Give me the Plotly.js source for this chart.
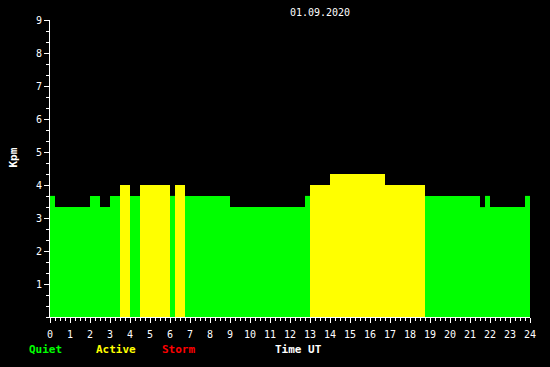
<!DOCTYPE html>
<html>
<head>
<meta charset="utf-8">
<script src="https://cdn.plot.ly/plotly-3.0.1.min.js"></script>
<style>html,body{margin:0;padding:0;background:#000;}#chart{width:550px;height:367px;}</style>
</head>
<body>
<div id="chart"></div>
<script>
// Kp segments (hours UT)
var segStart = [0, 0.25, 2.0, 2.5, 3.0, 3.5, 4.0, 4.5, 6.0, 6.25, 6.75, 9.0, 12.75, 13.0, 14.0, 16.75, 18.75, 21.5, 21.75, 22.0, 23.75];
var segEnd   = [0.25, 2.0, 2.5, 3.0, 3.5, 4.0, 4.5, 6.0, 6.25, 6.75, 9.0, 12.75, 13.0, 14.0, 16.75, 18.75, 21.5, 21.75, 22.0, 23.75, 24.0];
var kpValues = [3.67, 3.33, 3.67, 3.33, 3.67, 4.0, 3.67, 4.0, 3.67, 4.0, 3.67, 3.33, 3.67, 4.0, 4.33, 4.0, 3.67, 3.33, 3.67, 3.33, 3.67];
var xTickVals = [0,1,2,3,4,5,6,7,8,9,10,11,12,13,14,15,16,17,18,19,20,21,22,23,24];
var yTickVals = [1,2,3,4,5,6,7,8,9];
var dateLabel = "01.09.2020";

function kpColor(v){ return v >= 5 ? '#ff0000' : (v >= 4 ? '#ffff00' : '#00ff00'); }

var widths = segStart.map(function(s,i){ return segEnd[i]-s; });
var colors = kpValues.map(kpColor);

var trace = {
  type: 'bar', x: segStart, y: kpValues, width: widths, offset: 0,
  marker: {color: colors, line: {width: 0}}, hoverinfo: 'none'
};

var W = 550, H = 367, L = 50, R = 20, T = 20, B = 50;
var pw = W - L - R, ph = H - T - B;
function px(x){ return (x - L) / pw; }
function py(y){ return (H - B - y) / ph; }

var mono = 'DejaVu Sans Mono, monospace';
var layout = {
  width: W, height: H,
  margin: {l: L, r: R, t: T, b: B, pad: 0},
  paper_bgcolor: '#000', plot_bgcolor: '#000',
  font: {family: mono, size: 10, color: '#fff'},
  showlegend: false,
  xaxis: {
    range: [0, 24], tickvals: xTickVals, ticks: 'outside', ticklen: 5, tickwidth: 1, tickcolor: '#fff',
    showline: true, linecolor: '#fff', linewidth: 1, showgrid: false, zeroline: false, fixedrange: true,
    ticklabelstandoff: 3,
    minor: {dtick: 0.25, tick0: 0, ticks: 'outside', ticklen: 3, tickcolor: '#fff', showgrid: false},
    tickfont: {family: mono, size: 10, color: '#fff'}
  },
  yaxis: {
    range: [0, 9], tickvals: yTickVals, ticks: 'outside', ticklen: 5, tickwidth: 1, tickcolor: '#fff',
    showline: true, linecolor: '#fff', linewidth: 1, showgrid: false, zeroline: false, fixedrange: true,
    minor: {dtick: 1/3, tick0: 0, ticks: 'outside', ticklen: 3, tickcolor: '#fff', showgrid: false},
    tickfont: {family: mono, size: 10, color: '#fff'}
  },
  title: {text: dateLabel, x: 320/W, xref: 'container', xanchor: 'center', y: 1 - 12/H, yref: 'container', yanchor: 'middle',
          font: {family: mono, size: 10, color: '#fff'}},
  annotations: [
    {text: '<b>Kpm</b>', xref: 'paper', yref: 'paper', x: px(12.5), y: py(158), textangle: -90, showarrow: false,
     xanchor: 'center', yanchor: 'middle', font: {family: mono, size: 11, color: '#fff'}},
    {text: '<b>Quiet</b>', xref: 'paper', yref: 'paper', x: px(27), y: py(349), showarrow: false,
     xanchor: 'left', yanchor: 'middle', font: {family: mono, size: 11, color: '#00ff00'}},
    {text: '<b>Active</b>', xref: 'paper', yref: 'paper', x: px(94), y: py(349), showarrow: false,
     xanchor: 'left', yanchor: 'middle', font: {family: mono, size: 11, color: '#ffff00'}},
    {text: '<b>Storm</b>', xref: 'paper', yref: 'paper', x: px(160), y: py(349), showarrow: false,
     xanchor: 'left', yanchor: 'middle', font: {family: mono, size: 11, color: '#ff0000'}},
    {text: '<b>Time UT</b>', xref: 'paper', yref: 'paper', x: px(298), y: py(349), showarrow: false,
     xanchor: 'center', yanchor: 'middle', font: {family: mono, size: 11, color: '#fff'}}
  ]
};

Plotly.newPlot('chart', [trace], layout, {staticPlot: true, displayModeBar: false});
</script>
</body>
</html>
